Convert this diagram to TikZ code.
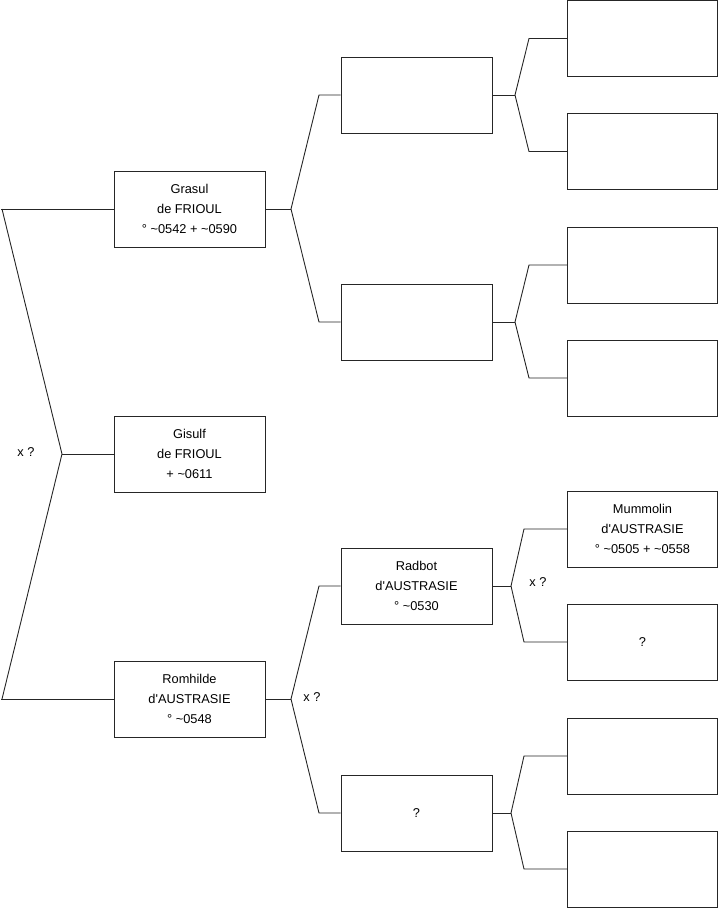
\documentclass[tikz,border=0pt]{standalone}
\usepackage{fontspec}
\setmainfont{Liberation Sans}
\newcommand{\ap}{\textquotesingle}
\begin{document}
\begin{tikzpicture}[x=1pt,y=-1pt,
  box/.style={draw=black!85, line width=0.9pt, minimum width=151pt, minimum height=76pt, inner sep=0pt, align=center, font=\fontsize{12.8}{20}\selectfont},
  sbox/.style={box, minimum width=150pt},
  ln/.style={draw=black!85, line width=0.9pt},
  lbl/.style={font=\fontsize{12.8}{14}\selectfont}]
\useasboundingbox (0,0) rectangle (719,908);
% level 1
\node[box] (grasul) at (189.5,209) {Grasul\\de FRIOUL\\° \textasciitilde0542 + \textasciitilde0590};
\node[box] (gisulf) at (189.5,454) {Gisulf\\de FRIOUL\\+ \textasciitilde0611};
\node[box] (romhilde) at (189.5,699) {Romhilde\\d\ap AUSTRASIE\\° \textasciitilde0548};
% level 2
\node[box] (a) at (416.5,95) {};
\node[box] (b) at (416.5,322) {};
\node[box] (radbot) at (416.5,586) {Radbot\\d\ap AUSTRASIE\\° \textasciitilde0530};
\node[box] (q) at (416.5,813) {?};
% level 3
\node[sbox] (a1) at (642.5,38.5) {};
\node[sbox] (a2) at (642.5,151.5) {};
\node[sbox] (b1) at (642.5,265) {};
\node[sbox] (b2) at (642.5,378) {};
\node[sbox] (mummolin) at (642.5,529) {Mummolin\\d\ap AUSTRASIE\\° \textasciitilde0505 + \textasciitilde0558};
\node[sbox] (r2) at (642.5,642) {?};
\node[sbox] (q1) at (642.5,756) {};
\node[sbox] (q2) at (642.5,869) {};
% root fork
\coordinate (r0) at (62,454);
\coordinate (rt) at (2,209);
\coordinate (rb) at (2,699);
\draw[ln] (grasul.west) -- (0.5,209);
\draw[ln] (romhilde.west) -- (0.5,699);
\draw[ln] (rt) -- (r0) -- (rb);
\draw[ln] (r0) -- (gisulf.west);
\node[lbl] (x0) at (26,452) {x ?};
% grasul fork
\coordinate (g0) at (291,209);
\draw[ln] (grasul.east) -- (g0);
\draw[ln] (g0) -- (319,95) -- (a.west);
\draw[ln] (g0) -- (319,322) -- (b.west);
% a fork
\coordinate (a0) at (515,95);
\draw[ln] (a.east) -- (a0);
\draw[ln] (a0) -- (529,38.5) -- (a1.west);
\draw[ln] (a0) -- (529,151.5) -- (a2.west);
% b fork
\coordinate (b0) at (515,322);
\draw[ln] (b.east) -- (b0);
\draw[ln] (b0) -- (529,265) -- (b1.west);
\draw[ln] (b0) -- (529,378) -- (b2.west);
% romhilde fork
\coordinate (h0) at (291,699);
\draw[ln] (romhilde.east) -- (h0);
\draw[ln] (h0) -- (319,586) -- (radbot.west);
\draw[ln] (h0) -- (319,813) -- (q.west);
\node[lbl] (x1) at (312,697) {x ?};
% radbot fork
\coordinate (d0) at (511,586);
\draw[ln] (radbot.east) -- (d0);
\draw[ln] (d0) -- (524,529) -- (mummolin.west);
\draw[ln] (d0) -- (524,642) -- (r2.west);
\node[lbl] (x2) at (538,582) {x ?};
% q fork
\coordinate (q0) at (511,813);
\draw[ln] (q.east) -- (q0);
\draw[ln] (q0) -- (524,756) -- (q1.west);
\draw[ln] (q0) -- (524,869) -- (q2.west);
\end{tikzpicture}
\end{document}
